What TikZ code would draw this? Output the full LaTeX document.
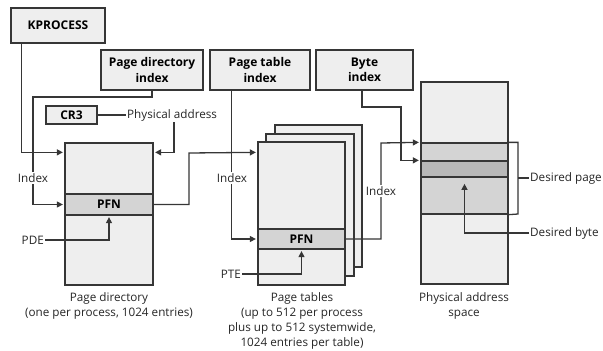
\documentclass[tikz,border=0pt]{standalone}
\usepackage{fontspec}
\setmainfont{Open Sans}
\usetikzlibrary{calc,arrows.meta}
\definecolor{edge}{HTML}{363636}
\definecolor{boxfill}{HTML}{EEEEEE}
\definecolor{rowfill}{HTML}{D4D4D4}
\definecolor{darkfill}{HTML}{B8B8B8}
\tikzset{
  boxst/.style={draw=edge, fill=boxfill, line width=1.3pt, inner sep=0pt, font=\fontsize{12}{15.5}\selectfont\bfseries, align=center},
  rowst/.style={boxst, fill=rowfill},
  lbl/.style={font=\fontsize{11.7}{15}\selectfont, inner sep=1pt, text=black!85},
  idx/.style={lbl, fill=white, inner sep=1.5pt},
  captxt/.style={font=\fontsize{11.7}{15}\selectfont, align=center, text=black!85, inner sep=0pt},
  conn/.style={draw=edge, line width=1.3pt},
  arr/.style={conn, -{Triangle[length=6pt,width=6pt]}, shorten >=1.5pt},
}
\begin{document}
\begin{tikzpicture}[x=1pt,y=-1pt]
\useasboundingbox (0,0) rectangle (603,351);
% top boxes
\node[boxst, minimum width=94pt, minimum height=35pt] (kp) at (58,25.5) {KPROCESS};
\node[boxst, minimum width=102pt, minimum height=40pt] (pdi) at (152,70) {Page directory\\index};
\node[boxst, minimum width=100pt, minimum height=40pt] (pti) at (260,70) {Page table\\index};
\node[boxst, minimum width=97pt, minimum height=40pt] (bi) at (364.5,70) {Byte\\index};
\node[boxst, minimum width=51pt, minimum height=18pt] (cr3) at (71.5,115) {CR3};
\node[lbl, anchor=west] (pa) at (126,115) {Physical address};
% page directory
\node[boxst, minimum width=88pt, minimum height=142pt] (pd) at (109,214) {};
\node[rowst, minimum width=88pt, minimum height=21pt] (pfn1) at (109,204.5) {PFN};
% page tables
\node[boxst, minimum width=87pt, minimum height=142pt] (ptb) at (318.5,196) {};
\node[boxst, minimum width=88pt, minimum height=142pt] (ptm) at (310,205) {};
\node[boxst, minimum width=87pt, minimum height=143pt] (ptf) at (301.5,213.5) {};
\node[rowst, minimum width=87pt, minimum height=20pt] (pfn2) at (301.5,239) {PFN};
% physical address space
\node[boxst, minimum width=87pt, minimum height=202pt] (pas) at (464.5,183) {};
\node[rowst, minimum width=87pt, minimum height=18pt] (b1) at (464.5,152) {};
\node[boxst, fill=darkfill, minimum width=87pt, minimum height=16pt] (b2) at (464.5,169) {};
\node[rowst, minimum width=87pt, minimum height=37pt] (b3) at (464.5,195.5) {};
% labels
\node[lbl, anchor=east] (pde) at (45,240) {PDE};
\node[lbl, anchor=east] (pte) at (242,274) {PTE};
\node[lbl, anchor=west] (dp) at (529,178) {Desired page};
\node[lbl, anchor=west] (db) at (529,233) {Desired byte};
% connectors
\draw[arr] ($(kp.south west)+(11,0)$) |- ($(pd.north west)+(0,10)$);
\draw[arr] (pdi.south) |- (33,97) |- (pfn1.west);
\node[idx] (ix1) at (33,178) {Index};
\draw[conn] (cr3.east) -- (pa.west);
\draw[arr] ($(pa.south west)+(48,0)$) |- ($(pd.north east)+(0,10)$);
\draw[arr] (pde.east) -| (pfn1.south);
\draw[arr] (pfn1.east) -| (189,153) -- ($(ptf.north west)+(0,11)$);
\draw[arr] ($(pti.south west)+(22,0)$) |- (pfn2.west);
\node[idx] (ix2) at (232,178) {Index};
\draw[arr] (pte.east) -| (pfn2.south);
\draw[arr] (pfn2.east) -| (381,143) -- (b1.north west);
\node[idx] (ix3) at (381,191) {Index};
\draw[arr] ($(bi.south)+(-2.5,0)$) |- (401,107) |- (b2.north west);
\draw[conn] (b1.north east) -| (518,214) -- (b3.south east);
\draw[conn] (518,178) -- (dp.west);
\draw[arr] (db.west) -| ($(b3.north)+(0,6)$);
% captions
\node[captxt] (c1) at (109,305.5) {Page directory\\(one per process, 1024 entries)};
\node[captxt] (c2) at (302,320.5) {Page tables\\(up to 512 per process\\plus up to 512 systemwide,\\1024 entries per table)};
\node[captxt] (c3) at (464,305.5) {Physical address\\space};
\end{tikzpicture}
\end{document}
